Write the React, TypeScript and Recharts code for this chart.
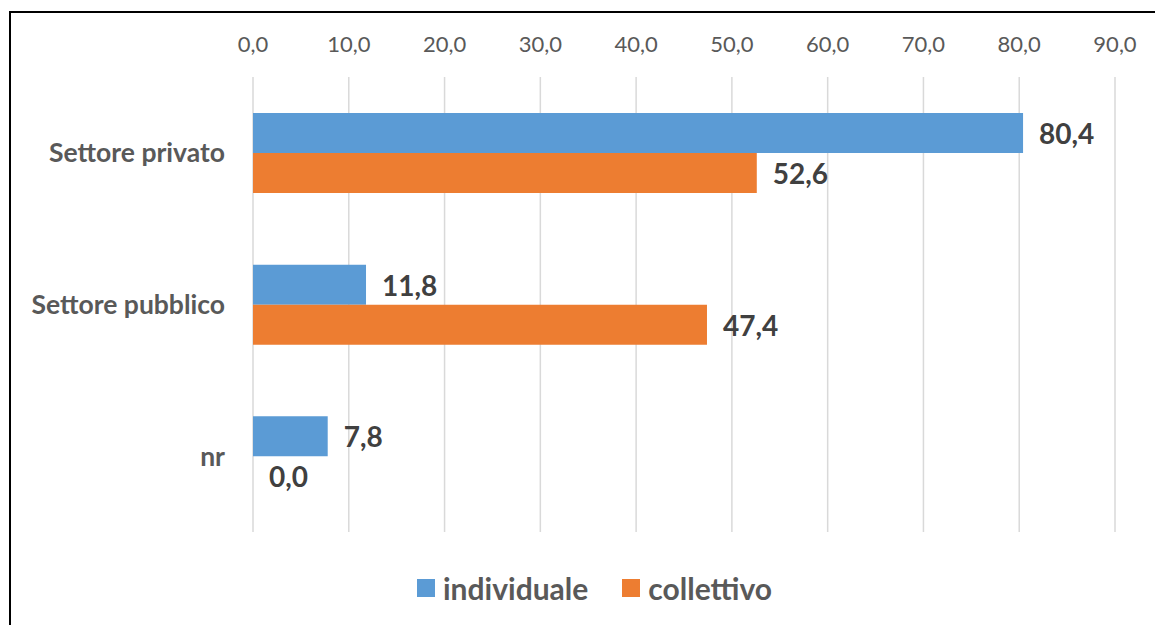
import React from 'react';
import { BarChart, Bar, XAxis, YAxis, CartesianGrid, Legend, LabelList } from 'recharts';

const categories = ['Settore privato', 'Settore pubblico', 'nr'];
const individuale = [80.4, 11.8, 7.8];
const collettivo = [52.6, 47.4, 0.0];
const xTicks = [0, 10, 20, 30, 40, 50, 60, 70, 80, 90];
const seriesNames = ['individuale', 'collettivo'];
const seriesColors = ['#5B9BD5', '#ED7D31'];

const data = categories.map((name, i) => ({
  name,
  individuale: individuale[i],
  collettivo: collettivo[i],
}));

const fmt = (v: any) => Number(v).toFixed(1).replace('.', ',');

const FONT = 'Lato, "Open Sans", sans-serif';

const LegendContent = (props: any) => {
  const payload = [...(props.payload || [])].sort(
    (a: any, b: any) => seriesNames.indexOf(a.value) - seriesNames.indexOf(b.value)
  );
  return (
    <div style={{ height: 76, position: 'relative', fontFamily: FONT }}>
      <div
        style={{
          position: 'absolute',
          top: 36,
          left: 0,
          right: 0,
          height: 40,
          display: 'flex',
          alignItems: 'center',
          justifyContent: 'flex-start',
          paddingLeft: 417,
        }}
      >
        {payload.map((p: any, i: number) => (
          <div key={i} style={{ display: 'flex', alignItems: 'center', marginRight: 34 }}>
            <div style={{ width: 18, height: 18, background: p.color, marginRight: 8 }} />
            <span style={{ fontSize: 30, fontWeight: 700, color: '#595959', lineHeight: '40px' }}>{p.value}</span>
          </div>
        ))}
      </div>
    </div>
  );
};

const LabelText = ({ x, y, text }: { x: number; y: number; text: string }) => (
  <text
    x={x}
    y={y}
    dominantBaseline="central"
    textAnchor="start"
    fill="#404040"
    fontSize={28}
    fontWeight={700}
    fontFamily={FONT}
  >
    {text}
  </text>
);

// Labels for the first series; also places the label of a zero-valued
// second-series bar (which Recharts does not render) in that bar's slot.
const FirstLabel = (props: any) => {
  const { x, y, width, height, value, index } = props;
  if (value === undefined || value === null) return null;
  const bx = Number(x);
  const by = Number(y);
  const bw = Number(width || 0);
  const bh = Number(height || 0);
  const other = collettivo[index];
  return (
    <g>
      <LabelText x={bx + bw + 16} y={by + bh / 2} text={fmt(value)} />
      {other === 0 ? <LabelText x={bx + 16} y={by + bh + bh / 2} text={fmt(other)} /> : null}
    </g>
  );
};

const SecondLabel = (props: any) => {
  const { x, y, width, height, value } = props;
  if (value === undefined || value === null || Number(value) === 0) return null;
  return <LabelText x={Number(x) + Number(width || 0) + 16} y={Number(y) + Number(height || 0) / 2} text={fmt(value)} />;
};

export default function App() {
  return (
    <div style={{ position: 'fixed', left: 0, top: 0, width: 1155, height: 625, overflow: 'hidden', background: '#fff' }}>
      <div
        style={{
          position: 'absolute',
          left: 9,
          top: 11,
          width: 1200,
          height: 700,
          border: '2px solid #000',
        }}
      />
      <div style={{ position: 'absolute', left: 0, top: 0 }}>
        <BarChart
          width={1155}
          height={625}
          data={data}
          layout="vertical"
          margin={{ top: 47, right: 40, bottom: 17, left: 0 }}
          barGap={0}
          barSize={40}
        >
          <CartesianGrid horizontal={false} stroke="#d9d9d9" strokeWidth={1.5} />
          <XAxis
            type="number"
            orientation="top"
            domain={[0, 90]}
            ticks={xTicks}
            tickFormatter={fmt}
            axisLine={false}
            tickLine={false}
            tickSize={0}
            tickMargin={25}
            height={30}
            tick={{ fill: '#595959', fontSize: 22, fontFamily: FONT }}
            interval={0}
          />
          <YAxis
            type="category"
            dataKey="name"
            width={253}
            axisLine={false}
            tickLine={false}
            tickSize={0}
            tickMargin={28}
            tick={{ fill: '#595959', fontSize: 26.5, fontWeight: 700, fontFamily: FONT }}
          />
          <Legend verticalAlign="bottom" content={<LegendContent />} />
          <Bar dataKey="individuale" name="individuale" fill={seriesColors[0]} isAnimationActive={false}>
            <LabelList dataKey="individuale" content={<FirstLabel />} />
          </Bar>
          <Bar dataKey="collettivo" name="collettivo" fill={seriesColors[1]} isAnimationActive={false}>
            <LabelList dataKey="collettivo" content={<SecondLabel />} />
          </Bar>
        </BarChart>
      </div>
    </div>
  );
}
